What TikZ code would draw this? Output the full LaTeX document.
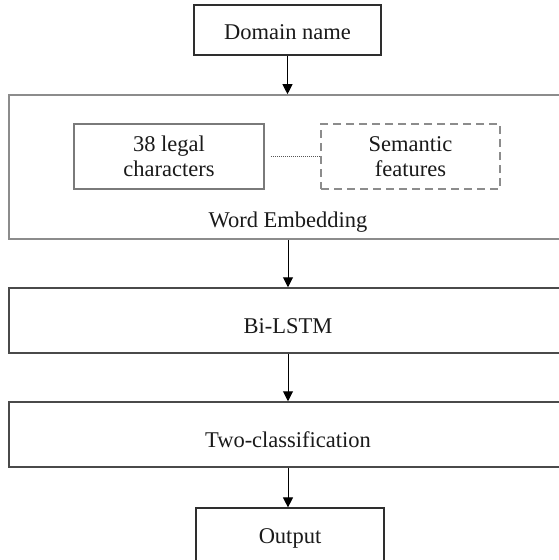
\documentclass[tikz,border=0pt]{standalone}
\usepackage{fontspec}
\setmainfont{Liberation Serif}
\usetikzlibrary{arrows.meta}
\definecolor{txt}{HTML}{1A1A1A}
\definecolor{darkbord}{HTML}{2E2E2E}
\definecolor{midbord}{HTML}{4A4A4A}
\definecolor{lightbord}{HTML}{8C8C8C}
\definecolor{greybord}{HTML}{7A7A7A}
\definecolor{dotcol}{HTML}{555555}
\begin{document}
\begin{tikzpicture}[x=1pt,y=-1pt,
  font=\fontsize{22.5}{25}\selectfont, text=txt,
  box/.style={rectangle, inner sep=0pt, line width=1.3pt},
  endbox/.style={box, draw=darkbord, line width=1.2pt, minimum width=187pt},
  widebox/.style={box, draw=midbord, line width=1.5pt, minimum width=558pt, minimum height=65pt, text depth=0pt},
  innerbox/.style={box, minimum height=65pt, align=center},
  arr/.style={draw=black, line width=1pt, -{Triangle[width=10pt,length=10pt]}},
  dotline/.style={draw=dotcol, line width=0.9pt, dash pattern=on 1pt off 1pt}]
\useasboundingbox (0,0) rectangle (559,560);
\fill[white] (0,0) rectangle (559,560);

\node[endbox, minimum height=50pt, text height=18pt, text depth=0pt] (dom) at (287.5,30) {Domain name};

\node[box, draw=lightbord, line width=1.6pt, minimum width=558pt, minimum height=144pt,
      text height=120pt, text depth=0pt] (we) at (288,167) {Word Embedding};

\node[innerbox, draw=greybord, line width=1.5pt, minimum width=190pt] (c38) at (169,156.5) {38 legal\\characters};
\node[innerbox, draw=lightbord, line width=1.5pt, minimum width=179pt, dash pattern=on 8pt off 5pt] (sem) at (410.5,156.5) {Semantic\\features};
\draw[dotline] ([xshift=6pt]c38.east) -- (sem.west);

\node[widebox, text height=25pt] (bilstm) at (288,320.5) {Bi-LSTM};
\node[widebox, text height=25pt] (twocls) at (288,434.5) {Two-classification};

\node[endbox, minimum width=188pt, minimum height=55pt, text height=16pt, text depth=0pt] (out) at (290,535.5) {Output};

\coordinate (col) at (288,0);
\draw[arr] (dom.south) -- (dom.south |- we.north);
\draw[arr] (we.south -| col) -- (bilstm.north -| col);
\draw[arr] (bilstm.south -| col) -- (twocls.north -| col);
\draw[arr] (twocls.south -| col) -- (out.north -| col);
\end{tikzpicture}
\end{document}
